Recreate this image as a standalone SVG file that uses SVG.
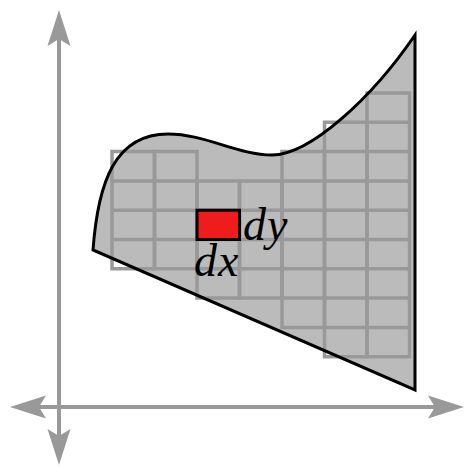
<svg xmlns="http://www.w3.org/2000/svg" width="466" height="467" viewBox="0 0 466 467">
<style>
.axis{stroke:#999;stroke-width:4;fill:none}
.grid{stroke:#999;stroke-width:3.5;fill:none}
.region{fill:#bbb;stroke:none}
.outline{fill:none;stroke:#000;stroke-width:3;stroke-linejoin:miter}
.lbl{font-family:"Liberation Serif","DejaVu Serif",serif;font-style:italic;font-size:46px;letter-spacing:1px;fill:#000}
</style>
<defs>
<marker id="arr" markerUnits="userSpaceOnUse" markerWidth="40" markerHeight="30" viewBox="-40 -15 40 30" refX="-29" refY="0" orient="auto-start-reverse">
<path d="M0,0 L-36,-11.5 L-29,0 L-36,11.5 Z" fill="#999"/>
</marker>
</defs>
<g id="region">
<path class="region" d="M93,250 C98,182 115,134 168,134 C205,134 238,155 272,155 C310,155 372,98 415,35 L415,390 Z"/>
</g>
<g id="grid">
<path class="grid" d="M112,151.6h42.5V268.8H112Z M112,180.9h42.5 M112,210.2h42.5 M112,239.5h42.5"/>
<path class="grid" d="M154.5,151.6h42.5V268.8H154.5Z M154.5,180.9h42.5 M154.5,210.2h42.5 M154.5,239.5h42.5"/>
<path class="grid" d="M197,180.9h42.5V298.1H197Z M197,210.2h42.5 M197,239.5h42.5 M197,268.8h42.5"/>
<path class="grid" d="M239.5,180.9h42.5V298.1H239.5Z M239.5,210.2h42.5 M239.5,239.5h42.5 M239.5,268.8h42.5"/>
<path class="grid" d="M282,151.6h42.5V327.4H282Z M282,180.9h42.5 M282,210.2h42.5 M282,239.5h42.5 M282,268.8h42.5 M282,298.1h42.5"/>
<path class="grid" d="M324.5,122.3h42.5V356.7H324.5Z M324.5,151.6h42.5 M324.5,180.9h42.5 M324.5,210.2h42.5 M324.5,239.5h42.5 M324.5,268.8h42.5 M324.5,298.1h42.5 M324.5,327.4h42.5"/>
<path class="grid" d="M367,93h42.5V356.7H367Z M367,122.3h42.5 M367,151.6h42.5 M367,180.9h42.5 M367,210.2h42.5 M367,239.5h42.5 M367,268.8h42.5 M367,298.1h42.5 M367,327.4h42.5"/>
</g>
<g id="outline">
<path class="outline" d="M93,250 C98,182 115,134 168,134 C205,134 238,155 272,155 C310,155 372,98 415,35 L415,390 Z"/>
</g>
<g id="element">
<rect x="197" y="210.2" width="42.5" height="29.3" fill="#ee1c1c" stroke="#000" stroke-width="3"/>
<text class="lbl" x="243" y="240">dy</text>
<text class="lbl" x="194" y="276">dx</text>
</g>
<g id="axes">
<line class="axis" x1="59" y1="39" x2="59" y2="436" marker-start="url(#arr)" marker-end="url(#arr)"/>
<line class="axis" x1="39" y1="407" x2="435" y2="407" marker-start="url(#arr)" marker-end="url(#arr)"/>
</g>
</svg>
